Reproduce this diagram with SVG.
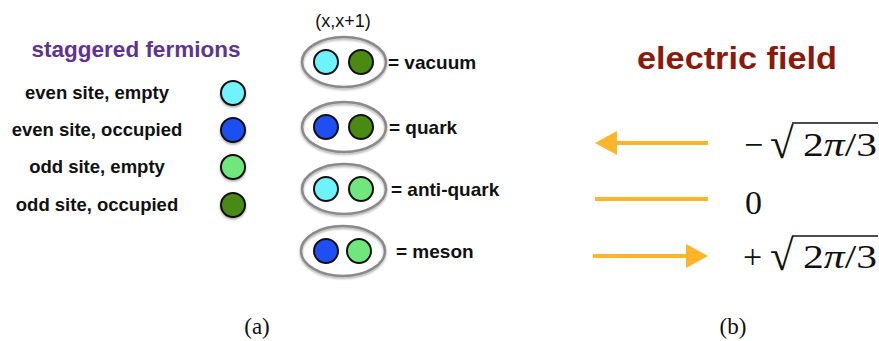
<svg xmlns="http://www.w3.org/2000/svg" width="879" height="341" viewBox="0 0 879 341">
<defs>
<style>
.lbl{font-family:"Liberation Sans",Arial,sans-serif;font-weight:bold;font-size:18.5px;fill:#111;}
.eq{font-family:"Liberation Sans",Arial,sans-serif;font-weight:bold;font-size:19px;fill:#111;}
.math{font-family:"Liberation Serif","DejaVu Serif",serif;font-size:34px;fill:#111;}
.rad{font-family:"Liberation Serif","DejaVu Serif",serif;font-size:43px;fill:#111;}
.cap{font-family:"Liberation Serif","DejaVu Serif",serif;font-size:23px;fill:#111;}
.dot{stroke:#111;stroke-width:2;}
.c1{fill:#6ff3fa;}
.c2{fill:#1f4ff2;}
.c3{fill:#6fe77c;}
.c4{fill:#4a8a12;}
.pair{fill:none;stroke:#8a8a8a;stroke-width:2.5;}
.fld{stroke:#fdb62a;stroke-width:4;fill:none;}
.head{fill:#fdb62a;}
</style>
<filter id="sh" x="-20%" y="-20%" width="140%" height="150%">
<feDropShadow dx="0" dy="1.5" stdDeviation="1" flood-color="#000" flood-opacity="0.35"/>
</filter>
</defs>

<g id="legend">
<text x="136" y="57" text-anchor="middle" style="font-family:'Liberation Sans',Arial,sans-serif;font-weight:bold;font-size:22.5px;fill:#5e3393">staggered fermions</text>
<g id="leg-even-empty"><text class="lbl" x="97" y="99" text-anchor="middle">even site, empty</text><circle class="dot c1" cx="233" cy="93" r="12" filter="url(#sh)"/></g>
<g id="leg-even-occ"><text class="lbl" x="97" y="136" text-anchor="middle">even site, occupied</text><circle class="dot c2" cx="233" cy="130" r="12" filter="url(#sh)"/></g>
<g id="leg-odd-empty"><text class="lbl" x="97" y="173" text-anchor="middle">odd site, empty</text><circle class="dot c3" cx="233" cy="167" r="12" filter="url(#sh)"/></g>
<g id="leg-odd-occ"><text class="lbl" x="97" y="211" text-anchor="middle">odd site, occupied</text><circle class="dot c4" cx="233" cy="205" r="12" filter="url(#sh)"/></g>
</g>

<text x="343" y="27" text-anchor="middle" style="font-family:'Liberation Sans',Arial,sans-serif;font-size:18px;fill:#111">(x,x+1)</text>

<g id="vacuum">
<ellipse class="pair" cx="344" cy="62" rx="42" ry="25" filter="url(#sh)"/>
<circle class="dot c1" cx="326" cy="62" r="12"/><circle class="dot c4" cx="361" cy="62" r="12"/>
<text class="eq" x="388" y="69">= vacuum</text>
</g>
<g id="quark">
<ellipse class="pair" cx="344" cy="127" rx="42" ry="25" filter="url(#sh)"/>
<circle class="dot c2" cx="326" cy="127" r="12"/><circle class="dot c4" cx="361" cy="127" r="12"/>
<text class="eq" x="389" y="134">= quark</text>
</g>
<g id="antiquark">
<ellipse class="pair" cx="344" cy="189" rx="42" ry="25" filter="url(#sh)"/>
<circle class="dot c1" cx="326" cy="189" r="12"/><circle class="dot c3" cx="361" cy="189" r="12"/>
<text class="eq" x="391" y="196">= anti-quark</text>
</g>
<g id="meson">
<ellipse class="pair" cx="343" cy="251" rx="42" ry="25" filter="url(#sh)"/>
<circle class="dot c2" cx="326" cy="251" r="12"/><circle class="dot c3" cx="359" cy="251" r="12"/>
<text class="eq" x="396" y="258">= meson</text>
</g>

<text x="637" y="69" textLength="200" lengthAdjust="spacingAndGlyphs" style="font-family:'Liberation Sans',Arial,sans-serif;font-weight:bold;font-size:31px;fill:#8b1a0c">electric field</text>

<g id="connectors">
<line class="fld" x1="708" y1="143" x2="614" y2="143"/>
<polygon class="head" points="595,143 617,131 617,155"/>
<line class="fld" x1="595" y1="199" x2="708" y2="199"/>
<line class="fld" x1="593" y1="256" x2="688" y2="256"/>
<polygon class="head" points="708,256 686,244 686,268"/>
</g>

<g id="val-neg">
<text class="math" x="744" y="156">−</text>
<text class="rad" x="770" y="158">√</text>
<line x1="792" y1="123" x2="878" y2="123" stroke="#111" stroke-width="1.6"/>
<text class="math" x="803" y="156" textLength="74" lengthAdjust="spacingAndGlyphs">2<tspan font-style="italic">π</tspan>/3</text>
</g>
<g id="val-zero">
<text class="math" x="745" y="214">0</text>
</g>
<g id="val-pos">
<text class="math" x="743" y="268">+</text>
<text class="rad" x="770" y="270">√</text>
<line x1="792" y1="236" x2="878" y2="236" stroke="#111" stroke-width="1.6"/>
<text class="math" x="803" y="268" textLength="74" lengthAdjust="spacingAndGlyphs">2<tspan font-style="italic">π</tspan>/3</text>
</g>

<text class="cap" x="257" y="334" text-anchor="middle">(a)</text>
<text class="cap" x="733" y="334" text-anchor="middle">(b)</text>
</svg>
